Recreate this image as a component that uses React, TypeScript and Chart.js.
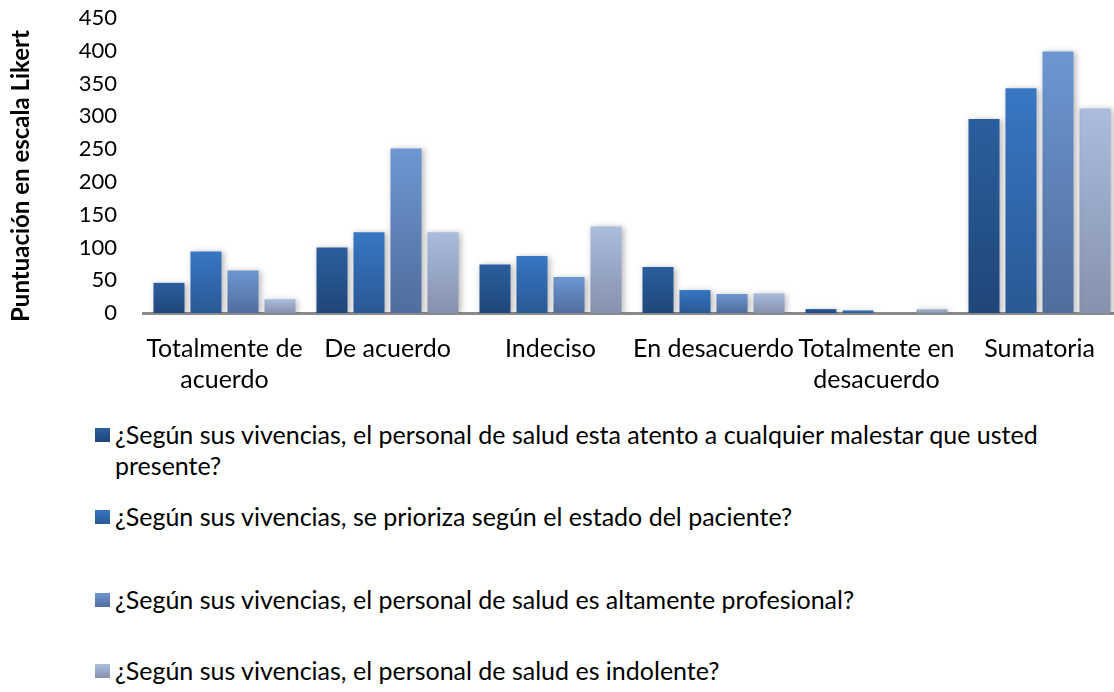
import React, { useEffect, useRef } from "react";
import { Chart, registerables } from "chart.js";

Chart.register(...registerables);

const categories: (string | string[])[] = [
  ["Totalmente de", "acuerdo"],
  "De acuerdo",
  "Indeciso",
  "En desacuerdo",
  ["Totalmente en", "desacuerdo"],
  "Sumatoria",
];

const seriesNames = [
  "¿Según sus vivencias, el personal de salud esta atento a cualquier malestar que usted presente?",
  "¿Según sus vivencias, se prioriza según el estado del paciente?",
  "¿Según sus vivencias, el personal de salud es altamente profesional?",
  "¿Según sus vivencias, el personal de salud es indolente?",
];

const series1 = [46, 100, 74, 70, 6, 296];
const series2 = [94, 123, 87, 35, 4, 343];
const series3 = [65, 251, 55, 29, 0, 399];
const series4 = [21, 123, 132, 30, 6, 312];

const yMin = 0;
const yMax = 450;
const yStep = 50;
const yTitle = "Puntuación en escala Likert";

const gradTops = ["#2b5e9e", "#3777c3", "#6d97d3", "#abbcdf"];
const gradBottoms = ["#1f4679", "#2a5895", "#506d9c", "#8592ad"];

const FONT = "Lato, 'Open Sans', sans-serif";

function makeGradient(i: number) {
  return (ctx: any) => {
    const chart = ctx.chart;
    const area = chart.chartArea;
    if (!area || ctx.type !== "data" || !chart.scales || !chart.scales.y) return gradTops[i];
    const y = chart.scales.y;
    const v = ctx.parsed ? ctx.parsed.y : ctx.raw;
    const yTop = y.getPixelForValue(v);
    const yBot = y.getPixelForValue(0);
    if (!isFinite(yTop) || !isFinite(yBot) || yBot - yTop < 1) return gradBottoms[i];
    const g = chart.ctx.createLinearGradient(0, yTop, 0, yBot);
    g.addColorStop(0, gradTops[i]);
    g.addColorStop(1, gradBottoms[i]);
    return g;
  };
}

const shadowPlugin = {
  id: "barShadow",
  beforeDatasetsDraw(chart: any) {
    const c = chart.ctx;
    c.save();
    c.shadowColor = "rgba(0,0,0,0.28)";
    c.shadowBlur = 6;
    c.shadowOffsetX = 2;
    c.shadowOffsetY = 1;
  },
  afterDatasetsDraw(chart: any) {
    chart.ctx.restore();
  },
};

const titlePlugin = {
  id: "yTitle",
  afterDraw(chart: any) {
    const c = chart.ctx;
    c.save();
    c.translate(21, 176);
    c.rotate(-Math.PI / 2);
    c.font = `bold 24px ${FONT}`;
    c.fillStyle = "#000";
    c.textAlign = "center";
    c.textBaseline = "middle";
    c.fillText(yTitle, 0, 0);
    c.restore();
  },
};

const legendTops = [435, 517, 600, 671];

export default function App() {
  const ref = useRef<HTMLCanvasElement | null>(null);

  useEffect(() => {
    if (!ref.current) return;
    const all = [series1, series2, series3, series4];
    const chart = new Chart(ref.current, {
      type: "bar",
      data: {
        labels: categories,
        datasets: all.map((d, i) => ({
          label: seriesNames[i],
          data: d,
          backgroundColor: makeGradient(i),
          borderWidth: 0,
          categoryPercentage: 0.908,
          barPercentage: 0.838,
        })),
      },
      plugins: [shadowPlugin, titlePlugin],
      options: {
        animation: false,
        responsive: false,
        maintainAspectRatio: false,
        layout: { padding: { top: 18, left: 0, right: 0, bottom: 0 } },
        plugins: {
          legend: { display: false },
          tooltip: { enabled: false },
        },
        scales: {
          x: {
            grid: { display: false, drawTicks: false },
            border: { display: true, color: "#8a8a8a", width: 3 },
            ticks: {
              color: "#000",
              font: { family: FONT, size: 25, lineHeight: 1.24 },
              padding: 20,
              maxRotation: 0,
              minRotation: 0,
              autoSkip: false,
            },
            afterFit: (s: any) => {
              s.height = 87;
            },
          },
          y: {
            min: yMin,
            max: yMax,
            grid: { display: false, drawTicks: false },
            border: { display: false },
            ticks: {
              stepSize: yStep,
              autoSkip: false,
              color: "#000",
              font: { family: FONT, size: 22 },
              padding: 26,
            },
            afterFit: (s: any) => {
              s.width = 143;
              s.paddingTop = 0;
              s.paddingBottom = 0;
            },
          },
        },
      },
    });
    return () => chart.destroy();
  }, []);

  return (
    <div
      style={{
        position: "fixed",
        left: 0,
        top: 0,
        width: 1114,
        height: 692,
        overflow: "hidden",
        background: "#fff",
        fontFamily: FONT,
      }}
    >
      <canvas
        ref={ref}
        width={1121}
        height={400}
        style={{ position: "absolute", left: 0, top: 0, width: 1121, height: 400 }}
      />
      {seriesNames.map((name, i) => {
        const lines =
          i === 0
            ? [
                "¿Según sus vivencias, el personal de salud esta atento a cualquier malestar que usted",
                "presente?",
              ]
            : [name];
        return (
          <div
            key={i}
            style={{ position: "absolute", left: 95, top: legendTops[i] - 16, color: "#000" }}
          >
            <div
              style={{
                position: "absolute",
                left: 0,
                top: 9,
                width: 15,
                height: 14,
                background: `linear-gradient(${gradTops[i]}, ${gradBottoms[i]})`,
              }}
            />
            <div
              style={{
                position: "absolute",
                left: 20,
                top: 0,
                fontSize: 25,
                lineHeight: "31px",
                whiteSpace: "nowrap",
              }}
            >
              {lines.map((l, k) => (
                <div key={k}>{l}</div>
              ))}
            </div>
          </div>
        );
      })}
    </div>
  );
}
